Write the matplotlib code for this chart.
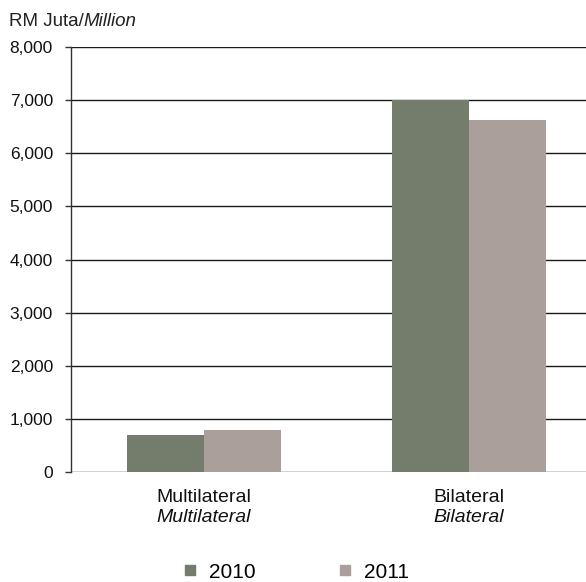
import numpy as np
import matplotlib.pyplot as plt
from matplotlib.transforms import blended_transform_factory
from matplotlib.lines import Line2D

plt.rcParams['font.family'] = ['Liberation Sans', 'DejaVu Sans']

# data
categories = ['Multilateral', 'Bilateral']
categories_en = ['Multilateral', 'Bilateral']
years = ['2010', '2011']
values_2010 = [700, 7010]
values_2011 = [790, 6630]
colors = ['#747d6c', '#ab9f9b']
yticks = [0, 1000, 2000, 3000, 4000, 5000, 6000, 7000, 8000]

fig = plt.figure(figsize=(5.86, 5.82), dpi=100)
ax = fig.add_axes([71 / 586, 1 - 472 / 582, 1 - 71 / 586, (472 - 47) / 582])

x = np.arange(len(categories))
w = 0.29
ax.bar(x - w / 2, values_2010, w, color=colors[0], zorder=3)
ax.bar(x + w / 2, values_2011, w, color=colors[1], zorder=3)

for yv in yticks:
    ax.axhline(yv, color='#1a1a1a', lw=1.0, zorder=1)

ax.set_xlim(-0.5, 1.44)
ax.set_ylim(0, 8000)
ax.set_yticks(yticks)
ax.set_yticklabels([f'{v:,}' for v in yticks], fontsize=12.5, color='#111111')
ax.tick_params(axis='y', length=4, width=1, color='#333333', pad=9)
ax.set_xticks([])
for s in ['top', 'right', 'bottom']:
    ax.spines[s].set_visible(False)
ax.spines['left'].set_color('#333333')
ax.spines['left'].set_linewidth(1.0)

trans = blended_transform_factory(ax.transData, fig.transFigure)
for i in range(len(categories)):
    ax.text(x[i], 1 - 498 / 582, categories[i], transform=trans, ha='center', va='center',
            fontsize=14, color='#111111')
    ax.text(x[i], 1 - 517 / 582, categories_en[i], transform=trans, ha='center', va='center',
            fontsize=14, style='italic', color='#111111')

t1 = fig.text(9 / 586, 1 - 21 / 582, 'RM Juta/', fontsize=13.5, va='center', ha='left', color='#222222')
ax.annotate('Million', xy=(1, 0), xycoords=t1, va='bottom', ha='left', fontsize=13.5,
            style='italic', color='#222222')

handles = [Line2D([], [], marker='s', ls='', markersize=7.5, color=c) for c in colors]
fig.legend(handles, years, loc='center', bbox_to_anchor=(292 / 586, 1 - 572 / 582), ncol=2,
           frameon=False, fontsize=15, columnspacing=3.6, handletextpad=0.2,
           handlelength=1.4)

fig.savefig('out.png', dpi=100)
